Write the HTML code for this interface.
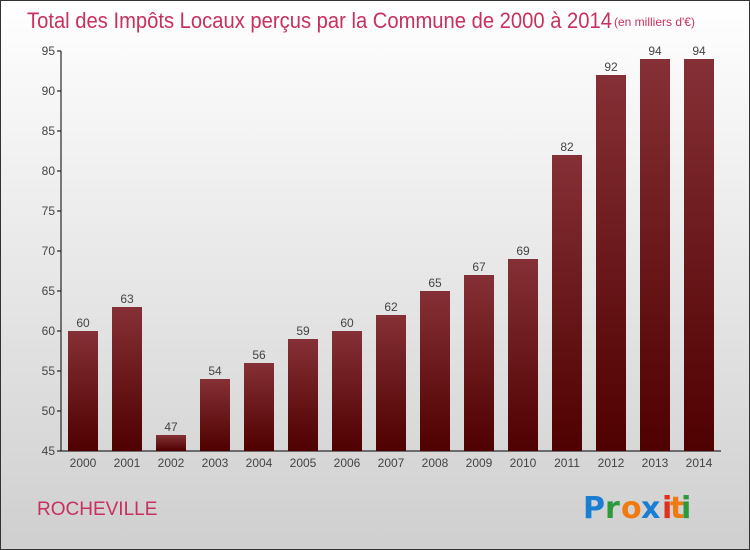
<!DOCTYPE html>
<html><head><meta charset="utf-8"><style>
body{margin:0}
#c{width:750px;height:550px;position:relative;overflow:hidden;box-sizing:border-box;border:1px solid #333;background:linear-gradient(#ffffff,#cfcfcf);font-family:"Liberation Sans",sans-serif}
</style></head><body>
<div id="c">
<svg id="s" width="750" height="550" style="position:absolute;left:0;top:0">
<defs><linearGradient id="g" x1="0" y1="0" x2="0" y2="1"><stop offset="0" stop-color="#853036"/><stop offset="1" stop-color="#4f0000"/></linearGradient></defs>
<text x="26" y="27" font-size="22" fill="#c8305e" textLength="585" lengthAdjust="spacingAndGlyphs">Total des Impôts Locaux perçus par la Commune de 2000 à 2014</text>
<text x="613" y="25" font-size="12" fill="#c8305e">(en milliers d'€)</text>
<text x="36" y="514" font-size="19" fill="#c8305e">ROCHEVILLE</text>
<g font-size="30" font-weight="bold" font-family="'DejaVu Sans',sans-serif">
<text x="582" y="517" fill="#1a7fd4">P</text><text x="604" y="517" fill="#2a9a3a">r</text><text x="620" y="517" fill="#f07a10">o</text><text x="640" y="517" fill="#1a7fd4">x</text><text x="661" y="517" fill="#e03020">i</text><text x="669" y="517" fill="#f07a10">t</text><text x="680" y="517" fill="#2a9a3a">i</text></g>
<g id="plot"></g>
</svg>
</div>
<script>
const years=["2000","2001","2002","2003","2004","2005","2006","2007","2008","2009","2010","2011","2012","2013","2014"];
const values=[60,63,47,54,56,59,60,62,65,67,69,82,92,94,94];
const yTicks=[45,50,55,60,65,70,75,80,85,90,95];
const NS="http://www.w3.org/2000/svg";
const p=document.getElementById('plot');
const y=v=>450-(v-45)*8;
const x=i=>82+i*44;
function mk(t,a){const e=document.createElementNS(NS,t);for(const k in a)e.setAttribute(k,a[k]);p.appendChild(e);return e;}
let l=mk('line',{x1:60,y1:50,x2:60,y2:450,stroke:'#000'});


l=mk('line',{x1:60,y1:450,x2:720,y2:450,stroke:'#000'});


yTicks.forEach(v=>{
 const t=mk('line',{x1:56,x2:60,y1:y(v),y2:y(v),stroke:'#000'});
 
 
 const tx=mk('text',{x:54,y:y(v)+4,'font-size':12,fill:'#444','text-anchor':'end'});
 tx.textContent=v;
 
 
});
years.forEach((yr,i)=>{
 const b=mk('rect',{x:x(i)-15,y:y(values[i]),width:30,height:450-y(values[i]),fill:'url(#g)'});
 
 
 const v=mk('text',{x:x(i),y:y(values[i])-4,'font-size':12,fill:'#444','text-anchor':'middle'});
 v.textContent=values[i];
 
 
 const xl=mk('text',{x:x(i),y:466,'font-size':12,fill:'#444','text-anchor':'middle'});
 xl.textContent=yr;
 
 
});
</script>
</body></html>
